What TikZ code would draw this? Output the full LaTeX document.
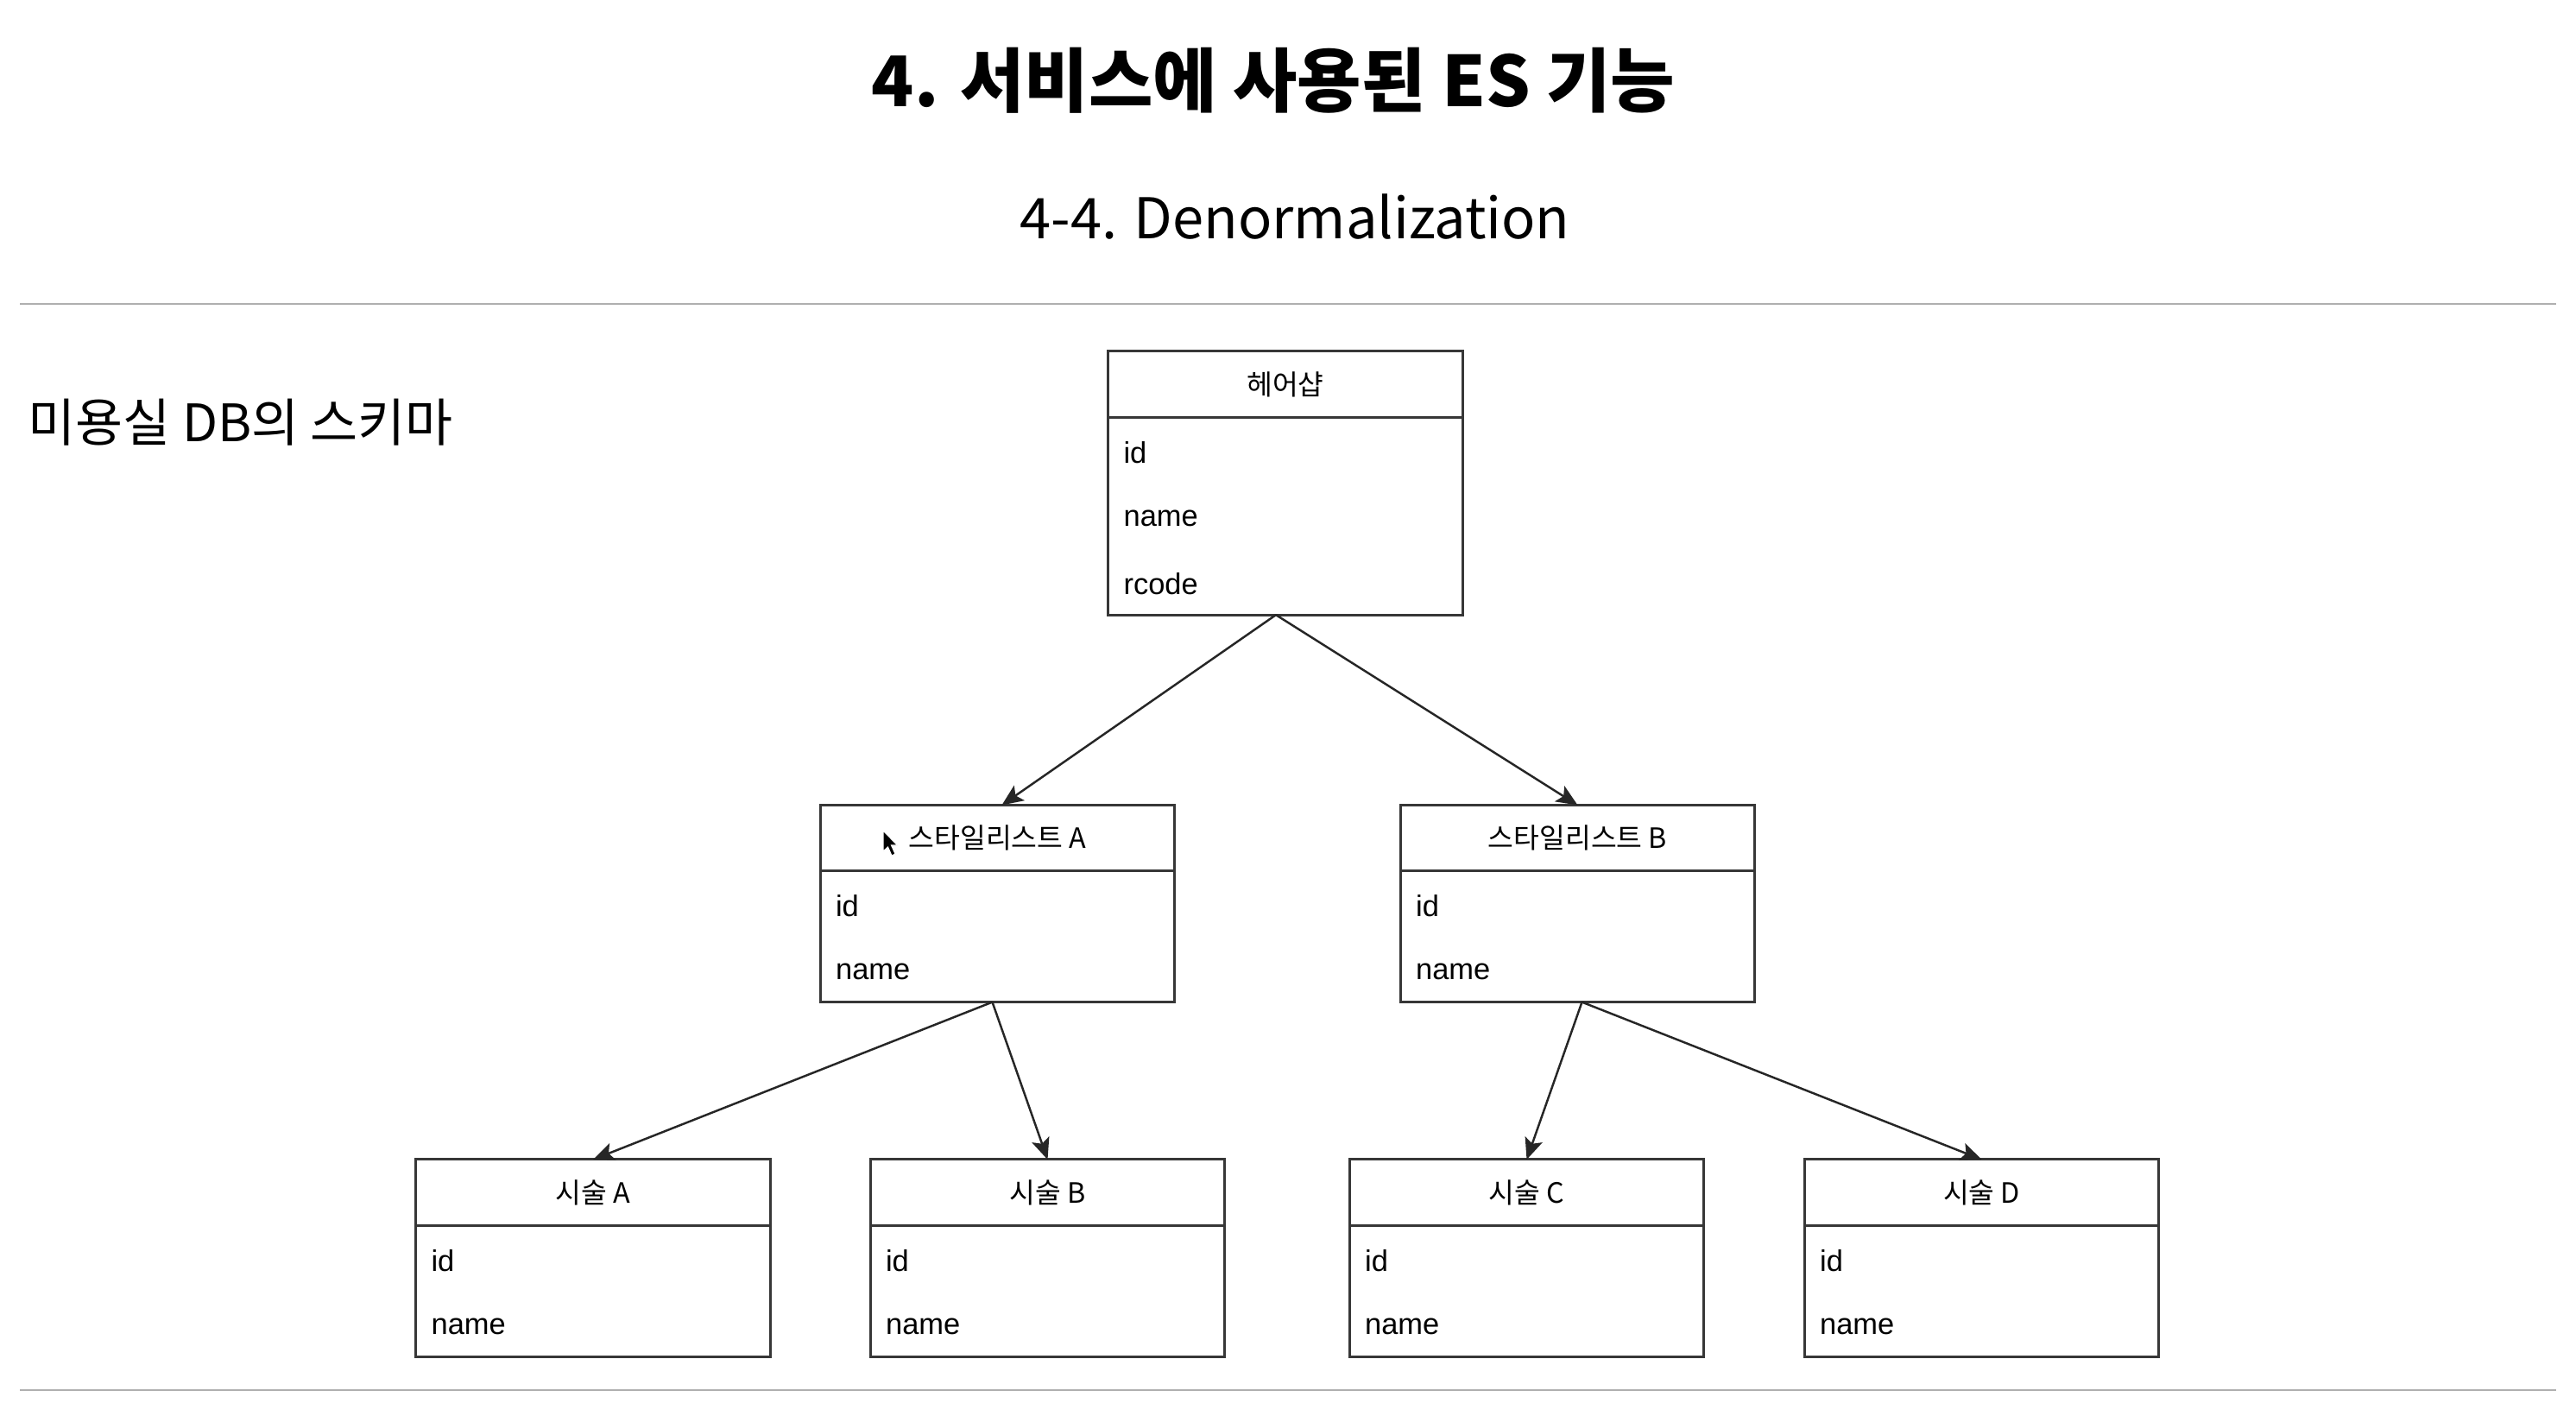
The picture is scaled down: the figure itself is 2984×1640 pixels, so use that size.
\documentclass[tikz,border=0pt]{standalone}
\usepackage{fontspec}
\setmainfont{Liberation Sans}
\newfontfamily\kr{Noto Sans CJK KR}
\usetikzlibrary{arrows.meta,calc,positioning}
\definecolor{rulegray}{RGB}{175,175,175}
\definecolor{boxgray}{RGB}{55,55,55}

\begin{document}
\begin{tikzpicture}[x=0.01cm, y=-0.01cm,
    hdr/.style={draw=boxgray, line width=0.85pt, minimum width=4.1cm, minimum height=0.76cm,
      inner sep=0pt, outer sep=0pt, font=\kr\fontsize{9.2}{11}\selectfont},
    body/.style={draw=boxgray, line width=0.85pt, minimum width=4.1cm, inner sep=0pt, outer sep=0pt},
    field/.style={anchor=west, inner sep=0pt, font=\fontsize{9.8}{12}\selectfont},
    link/.style={-{Stealth[length=7pt,width=6pt,inset=1.5pt]}, line width=0.7pt, black!85}]

    \useasboundingbox (0,0) rectangle (2984,1640);

    % Headings
    \node[font=\kr\bfseries\fontsize{23}{28}\selectfont] (title) at (1475,93) {4. 서비스에 사용된 ES 기능};
    \node[font=\kr\fontsize{18.5}{22}\selectfont] (subtitle) at (1500,251) {4-4. Denormalization};
    \node[anchor=west, inner sep=0pt, font=\kr\fontsize{17}{21}\selectfont] (schema) at (32,489) {미용실 DB의 스키마};

    % Rules
    \draw[rulegray, line width=0.8pt] (23,352) -- (2961,352);
    \draw[rulegray, line width=0.8pt] (23,1610) -- (2961,1610);

    % Hair shop
    \node[hdr] (hair) at (1489,445) {헤어샵};
    \node[body, minimum height=2.29cm, below=0pt of hair] (hairbody) {};
    \node[field] (hairid) at ($(hairbody.north west)+(17,41)$) {id};
    \node[field] (hairname) at ($(hairbody.north west)+(17,117)$) {name};
    \node[field] (haircode) at ($(hairbody.north west)+(17,193)$) {rcode};

    % Stylists
    \node[hdr] (stya) at (1155.5,970.5) {스타일리스트 A};
    \node[body, minimum height=1.52cm, below=0pt of stya] (styabody) {};
    \node[field] (styaid) at ($(styabody.north west)+(17,41)$) {id};
    \node[field] (styaname) at ($(styabody.north west)+(17,117)$) {name};

    \node[hdr] (styb) at (1827.5,970.5) {스타일리스트 B};
    \node[body, minimum height=1.52cm, below=0pt of styb] (stybbody) {};
    \node[field] (stybid) at ($(stybbody.north west)+(17,41)$) {id};
    \node[field] (stybname) at ($(stybbody.north west)+(17,117)$) {name};

    % Treatments
    \node[hdr] (treata) at (687,1381) {시술 A};
    \node[body, minimum height=1.52cm, below=0pt of treata] (treatabody) {};
    \node[field] (treataid) at ($(treatabody.north west)+(17,41)$) {id};
    \node[field] (treataname) at ($(treatabody.north west)+(17,117)$) {name};

    \node[hdr] (treatb) at (1213.5,1381) {시술 B};
    \node[body, minimum height=1.52cm, below=0pt of treatb] (treatbbody) {};
    \node[field] (treatbid) at ($(treatbbody.north west)+(17,41)$) {id};
    \node[field] (treatbname) at ($(treatbbody.north west)+(17,117)$) {name};

    \node[hdr] (treatc) at (1768.5,1381) {시술 C};
    \node[body, minimum height=1.52cm, below=0pt of treatc] (treatcbody) {};
    \node[field] (treatcid) at ($(treatcbody.north west)+(17,41)$) {id};
    \node[field] (treatcname) at ($(treatcbody.north west)+(17,117)$) {name};

    \node[hdr] (treatd) at (2295.5,1381) {시술 D};
    \node[body, minimum height=1.52cm, below=0pt of treatd] (treatdbody) {};
    \node[field] (treatdid) at ($(treatdbody.north west)+(17,41)$) {id};
    \node[field] (treatdname) at ($(treatdbody.north west)+(17,117)$) {name};

    % Links
    \draw[link] ($(hairbody.south)+(-11,0)$) -- ($(stya.north)+(5,0)$);
    \draw[link] ($(hairbody.south)+(-11,0)$) -- (styb.north);
    \draw[link] ($(styabody.south)+(-6,0)$) -- (treata.north);
    \draw[link] ($(styabody.south)+(-6,0)$) -- (treatb.north);
    \draw[link] ($(stybbody.south)+(5,0)$) -- (treatc.north);
    \draw[link] ($(stybbody.south)+(5,0)$) -- (treatd.north);

    % Mouse pointer
    \filldraw[fill=black, draw=white, line width=0.3pt] (1023,962) -- ++(0,24) -- ++(5.5,-5) -- ++(4.5,10)
      -- ++(4,-2) -- ++(-4.5,-10) -- ++(7,0) -- cycle;
\end{tikzpicture}
\end{document}
